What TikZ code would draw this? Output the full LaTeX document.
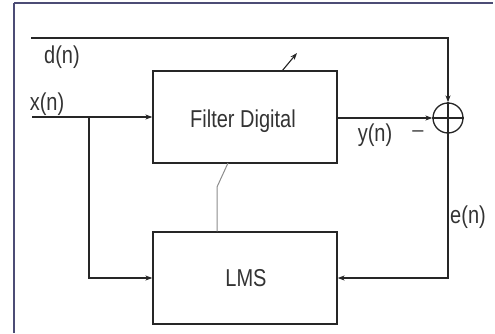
\documentclass[tikz,border=0pt]{standalone}
\usepackage{fontspec}
\usepackage{graphicx}
\setmainfont{Liberation Sans}
\usetikzlibrary{arrows.meta}
\newcommand{\tallt}[1]{\scalebox{1}[1.22]{#1}}
\begin{document}
\begin{tikzpicture}[x=1pt,y=-1pt,
  blk/.style={draw=black!85,line width=1.3pt,minimum width=184pt,minimum height=92pt,inner sep=0pt,font=\fontsize{20}{24}\selectfont,text=black!80},
  lbl/.style={inner sep=0pt,font=\fontsize{20}{24}\selectfont,text=black!80},
  wire/.style={draw=black!85,line width=1.3pt},
  arr/.style={wire,-{Stealth[length=7pt,width=5pt]}},
  gwire/.style={draw=black!45,line width=1pt}]
\useasboundingbox (0,0) rectangle (495,334);
\draw[draw=black!60!blue!40!gray,line width=1.5pt] (14,3) -- (493,3);
\draw[draw=black!60!blue!40!gray,line width=1.5pt] (14,3) -- (14,333);
\node[blk] (filt) at (245,117) {};
\node[blk] (lms) at (245,278) {};
\node[lbl] (ft) at (243,121) {\tallt{Filter Digital}};
\node[lbl] (lt) at (246,278) {\tallt{LMS}};
\node[draw=black!85,line width=1.3pt,circle,minimum size=30pt,inner sep=0pt] (sum) at (448,118) {};
\draw[wire] (sum.north) -- (sum.south) (sum.west) -- (sum.east);
\coordinate (din) at (31,38);
\coordinate (dcorner) at (448,38);
\coordinate (xin) at (32,117);
\coordinate (br) at (89,117);
\coordinate (brd) at (89,278);
\coordinate (ecorner) at (448,278);
\coordinate (tip) at (297,53);
\coordinate (ttail) at (282,71);
\coordinate (gk) at (217,187);
\draw[arr] (din) -- (dcorner) -- (sum.north);
\draw[arr] (xin) -- (filt.west);
\draw[arr] (br) -- (brd) -- (lms.west);
\draw[arr] (filt.east |- sum.west) -- (sum.west);
\draw[arr] (sum.south) -- (ecorner) -- (lms.east);
\draw[arr,line width=1.1pt] (ttail) -- (tip);
\draw[gwire] (228,163) -- (gk) -- (gk |- lms.north);
\node[lbl] (dl) at (62,57) {\tallt{d(n)}};
\node[lbl] (xl) at (47,104) {\tallt{x(n)}};
\node[lbl] (yl) at (375,135) {\tallt{y(n)}};
\node[lbl] (ml) at (418,134) {\textendash};
\node[lbl] (el) at (468,217) {\tallt{e(n)}};
\end{tikzpicture}
\end{document}
